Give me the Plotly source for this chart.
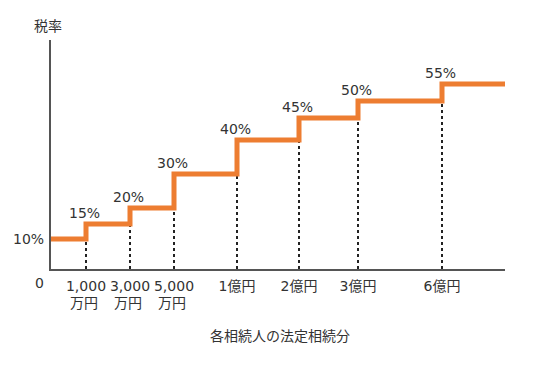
import plotly.graph_objects as go

# Schematic chart: positions/heights (non-proportional axes)
rates = ["10%", "15%", "20%", "30%", "40%", "45%", "50%", "55%"]
levels = [30, 45, 61, 95, 129, 151, 168, 185]          # drawn height of each step
thresholds = [35, 79, 123, 186, 248, 307, 391]        # schematic x of each bracket boundary
threshold_labels = ["1,000", "3,000", "5,000", "1億円", "2億円", "3億円", "6億円"]
threshold_sub = ["万円", "万円", "万円", "", "", "", ""]
x_end = 454
y_top = 229

ORANGE = "#ED7D31"
TEXT = "#333333"
FONT = "DejaVu Sans, Noto Sans CJK JP, sans-serif"

fig = go.Figure()

# dotted guide lines from axis up to each step
for xv, lv in zip(thresholds, levels[:-1]):
    fig.add_trace(go.Scatter(x=[xv, xv], y=[0, lv], mode="lines",
                             line=dict(color="#222222", width=2, dash="dot"),
                             hoverinfo="skip", showlegend=False))

# step line
step_x = [0] + thresholds + [x_end]
step_y = levels + [levels[-1]]
fig.add_trace(go.Scatter(x=step_x, y=step_y, mode="lines", line_shape="hv",
                         line=dict(color=ORANGE, width=5), showlegend=False))

# rate labels
for xv, lv, r in zip(thresholds, levels[1:], rates[1:]):
    fig.add_annotation(x=xv, y=lv, text=r, showarrow=False, yanchor="bottom",
                       yshift=1, xshift=-2, font=dict(size=14, color=TEXT, family=FONT))
fig.add_annotation(x=0, y=levels[0], text=rates[0], showarrow=False, xanchor="right",
                   xshift=-5, font=dict(size=14, color=TEXT, family=FONT))
fig.add_annotation(x=0, y=0, text="0", showarrow=False, xanchor="right", yanchor="top",
                   xshift=-5, yshift=-4, font=dict(size=14, color=TEXT, family=FONT))
fig.add_annotation(x=0, y=y_top, text="税率", showarrow=False, yanchor="bottom",
                   xshift=-3, yshift=4, font=dict(size=14, color=TEXT, family=FONT))
# second line of the tick labels
for xv, s in zip(thresholds, threshold_sub):
    if s:
        fig.add_annotation(x=xv, y=0, text=s, showarrow=False, yanchor="top",
                           yshift=-24, xshift=-2, font=dict(size=14, color=TEXT, family=FONT))
fig.add_annotation(xref="paper", yref="paper", x=0.505, y=0, text="各相続人の法定相続分",
                   showarrow=False, yanchor="top", yshift=-57,
                   font=dict(size=14, color=TEXT, family=FONT))

fig.update_xaxes(range=[0, x_end], showgrid=False, zeroline=False, showline=True,
                 linecolor="#555555", linewidth=1.5, tickvals=thresholds,
                 ticktext=threshold_labels, ticks="", ticklabelstandoff=3,
                 tickfont=dict(size=14, color=TEXT, family=FONT), fixedrange=True)
fig.update_yaxes(range=[0, y_top], showgrid=False, zeroline=False, showline=True,
                 linecolor="#555555", linewidth=1.5, showticklabels=False, ticks="",
                 fixedrange=True)

fig.update_layout(width=532, height=364, margin=dict(l=43, r=35, t=32, b=103),
                  plot_bgcolor="white", paper_bgcolor="white", showlegend=False,
                  font=dict(family=FONT, color=TEXT))

fig.write_html("out.html", config={"displayModeBar": False})
